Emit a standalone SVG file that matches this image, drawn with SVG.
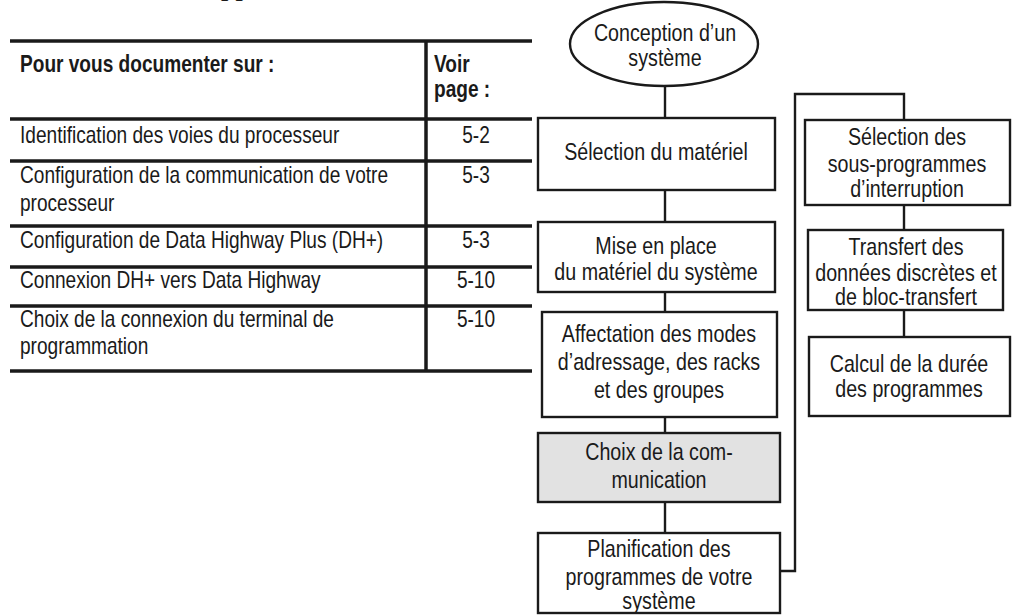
<svg xmlns="http://www.w3.org/2000/svg" width="1021" height="615" viewBox="0 0 1021 615">
  <style>
    text { font-family: "Liberation Sans", Arial, sans-serif; fill: #1a1a1a; }
    .tbl { font-size: 23px; }
    .hdr { font-size: 23px; font-weight: bold; }
    .num { font-size: 23px; text-anchor: middle; }
    .lbl { font-size: 24px; text-anchor: middle; }
    .rule { stroke: #1a1a1a; stroke-width: 3.5; fill: none; }
    .box { fill: #ffffff; stroke: #1a1a1a; stroke-width: 2.4; }
    .box.hl { fill: #e2e2e2; }
    .wire { stroke: #1a1a1a; stroke-width: 2.4; fill: none; }
  </style>

  <rect width="1021" height="615" fill="#ffffff"/>

  <!-- page heading, cropped at the top edge -->
  <text x="221" y="-4" style="font-family:'Liberation Serif',serif;font-size:26px;font-weight:bold">pp</text>

  <!-- reference table; glyphs narrowed horizontally to a condensed face -->
  <g id="table">
    <line class="rule" x1="10" y1="41" x2="532" y2="41"/>
    <line class="rule" x1="10" y1="119" x2="532" y2="119"/>
    <line class="rule" x1="10" y1="161" x2="532" y2="161"/>
    <line class="rule" x1="10" y1="226" x2="532" y2="226"/>
    <line class="rule" x1="10" y1="267" x2="532" y2="267"/>
    <line class="rule" x1="10" y1="306" x2="532" y2="306"/>
    <line class="rule" x1="10" y1="371" x2="532" y2="371"/>
    <line class="rule" x1="426" y1="41" x2="426" y2="371"/>

    <text class="hdr" transform="translate(20 72) scale(0.83 1)">Pour vous documenter sur :</text>
    <text class="hdr" transform="translate(434 72) scale(0.83 1)">Voir</text>
    <text class="hdr" transform="translate(434 97) scale(0.83 1)">page :</text>

    <text class="tbl" transform="translate(20 143) scale(0.83 1)">Identification des voies du processeur</text>
    <text class="num" transform="translate(476 143) scale(0.83 1)">5-2</text>

    <text class="tbl" transform="translate(20 183) scale(0.83 1)">Configuration de la communication de votre</text>
    <text class="tbl" transform="translate(20 211) scale(0.83 1)">processeur</text>
    <text class="num" transform="translate(476 183) scale(0.83 1)">5-3</text>

    <text class="tbl" transform="translate(20 248) scale(0.83 1)">Configuration de Data Highway Plus (DH+)</text>
    <text class="num" transform="translate(476 248) scale(0.83 1)">5-3</text>

    <text class="tbl" transform="translate(20 288) scale(0.83 1)">Connexion DH+ vers Data Highway</text>
    <text class="num" transform="translate(476 288) scale(0.83 1)">5-10</text>

    <text class="tbl" transform="translate(20 327) scale(0.83 1)">Choix de la connexion du terminal de</text>
    <text class="tbl" transform="translate(20 354) scale(0.83 1)">programmation</text>
    <text class="num" transform="translate(476 327) scale(0.83 1)">5-10</text>
  </g>

  <!-- connectors -->
  <g id="connectors">
    <line class="wire" x1="665" y1="86" x2="665" y2="118"/>
    <line class="wire" x1="665" y1="190" x2="665" y2="222"/>
    <line class="wire" x1="665" y1="292" x2="665" y2="312"/>
    <line class="wire" x1="665" y1="417" x2="665" y2="433"/>
    <line class="wire" x1="665" y1="502" x2="665" y2="533"/>
    <polyline class="wire" points="780,571 795,571 795,94 904,94 904,120"/>
    <line class="wire" x1="904" y1="205" x2="904" y2="230"/>
    <line class="wire" x1="904" y1="310" x2="904" y2="337"/>
  </g>

  <!-- flowchart nodes -->
  <g id="n-conception">
    <ellipse class="box" cx="664" cy="44" rx="94" ry="42"/>
    <text class="lbl" transform="translate(665 41) scale(0.82 1)">Conception d’un</text>
    <text class="lbl" transform="translate(665 66) scale(0.82 1)">système</text>
  </g>

  <g id="n-selection-materiel">
    <rect class="box" x="538" y="118" width="237" height="72"/>
    <text class="lbl" transform="translate(656 160) scale(0.82 1)">Sélection du matériel</text>
  </g>

  <g id="n-mise-en-place">
    <rect class="box" x="538" y="222" width="237" height="70"/>
    <text class="lbl" transform="translate(656 254) scale(0.82 1)">Mise en place</text>
    <text class="lbl" transform="translate(656 280) scale(0.82 1)">du matériel du système</text>
  </g>

  <g id="n-affectation">
    <rect class="box" x="542" y="312" width="235" height="105"/>
    <text class="lbl" transform="translate(659 342) scale(0.82 1)">Affectation des modes</text>
    <text class="lbl" transform="translate(659 370) scale(0.82 1)">d’adressage, des racks</text>
    <text class="lbl" transform="translate(659 398) scale(0.82 1)">et des groupes</text>
  </g>

  <g id="n-communication">
    <rect class="box hl" x="538" y="433" width="242" height="69"/>
    <text class="lbl" transform="translate(659 460) scale(0.82 1)">Choix de la com-</text>
    <text class="lbl" transform="translate(659 488) scale(0.82 1)">munication</text>
  </g>

  <g id="n-planification">
    <rect class="box" x="538" y="533" width="242" height="80"/>
    <text class="lbl" transform="translate(659 557) scale(0.82 1)">Planification des</text>
    <text class="lbl" transform="translate(659 585) scale(0.82 1)">programmes de votre</text>
    <text class="lbl" transform="translate(659 609) scale(0.82 1)">système</text>
  </g>

  <g id="n-interruption">
    <rect class="box" x="805" y="120" width="205" height="85"/>
    <text class="lbl" transform="translate(907 145) scale(0.82 1)">Sélection des</text>
    <text class="lbl" transform="translate(907 172) scale(0.82 1)">sous-programmes</text>
    <text class="lbl" transform="translate(907 197) scale(0.82 1)">d’interruption</text>
  </g>

  <g id="n-transfert">
    <rect class="box" x="808" y="230" width="195" height="80"/>
    <text class="lbl" transform="translate(906 255) scale(0.82 1)">Transfert des</text>
    <text class="lbl" transform="translate(906 281) scale(0.82 1)">données discrètes et</text>
    <text class="lbl" transform="translate(906 305) scale(0.82 1)">de bloc-transfert</text>
  </g>

  <g id="n-calcul">
    <rect class="box" x="809" y="337" width="201" height="79"/>
    <text class="lbl" transform="translate(909 372) scale(0.82 1)">Calcul de la durée</text>
    <text class="lbl" transform="translate(909 397) scale(0.82 1)">des programmes</text>
  </g>
</svg>
